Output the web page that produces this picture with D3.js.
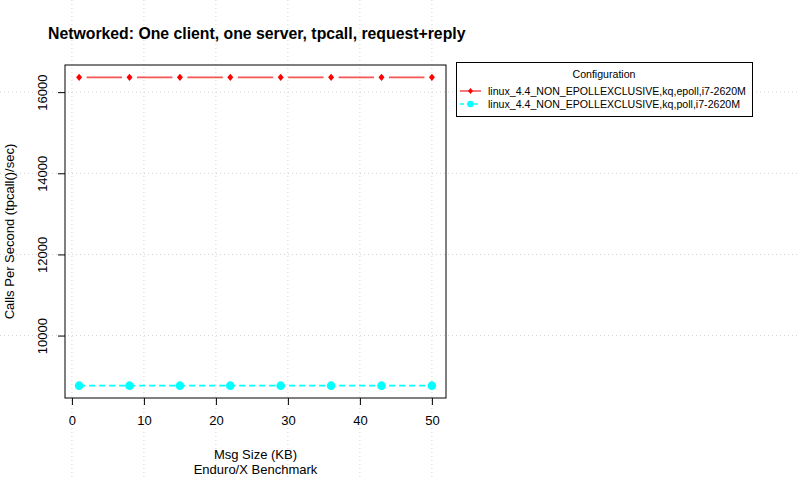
<!DOCTYPE html>
<html><head><meta charset="utf-8">
<script src="https://cdn.jsdelivr.net/npm/d3@7"></script>
<style>body{margin:0;background:#fff}svg{display:block;font-family:"Liberation Sans",Arial,sans-serif}</style>
</head><body>
<svg id="c" width="800" height="480"></svg>
<script>
const msgSize = [1, 8, 15, 22, 29, 36, 43, 50];
const epollValues = [16365, 16365, 16365, 16365, 16365, 16365, 16365, 16365];
const pollValues = [8765, 8765, 8765, 8765, 8765, 8765, 8765, 8765];
const seriesNames = ["linux_4.4_NON_EPOLLEXCLUSIVE,kq,epoll,i7-2620M", "linux_4.4_NON_EPOLLEXCLUSIVE,kq,poll,i7-2620M"];
const xTicks = [0, 10, 20, 30, 40, 50];
const yTicks = [10000, 12000, 14000, 16000];

const svg = d3.select("#c");
const L = 65, R = 446, T = 65, B = 398;
const xr = [1, 50], xp = (xr[1]-xr[0])*0.04;
const x = d3.scaleLinear().domain([xr[0]-xp, xr[1]+xp]).range([L, R]);
const allY = epollValues.concat(pollValues);
const yr = [d3.min(allY), d3.max(allY)], yp = (yr[1]-yr[0])*0.04;
const y = d3.scaleLinear().domain([yr[0]-yp, yr[1]+yp]).range([B, T]);

const diamond = (w, h) => `M0,${-h}L${w},0L0,${h}L${-w},0Z`;

// grid across whole canvas
const g = svg.append("g").attr("stroke", "#d3d3d3").attr("stroke-dasharray", "1,3").attr("stroke-width", 1);
xTicks.forEach(t => g.append("line").attr("x1", x(t)).attr("x2", x(t)).attr("y1", 0).attr("y2", 480));
yTicks.forEach(t => g.append("line").attr("y1", y(t)).attr("y2", y(t)).attr("x1", 0).attr("x2", 800));

// axes
const xa = svg.append("g").attr("transform", `translate(0,${B})`)
  .call(d3.axisBottom(x).tickValues(xTicks).tickSize(7).tickPadding(11).tickSizeOuter(0));
xa.select(".domain").remove();
xa.selectAll("text").attr("font-size", 13).attr("fill", "#000").attr("font-family", "Liberation Sans, Arial, sans-serif");
const ya = svg.append("g").attr("transform", `translate(${L},0)`)
  .call(d3.axisLeft(y).tickValues(yTicks).tickSize(7).tickFormat(d3.format("d")));
ya.select(".domain").remove();
ya.selectAll("text").attr("font-size", 13).attr("fill", "#000").attr("font-family", "Liberation Sans, Arial, sans-serif")
  .attr("text-anchor", "middle").attr("dy", 0).attr("x", 0)
  .attr("transform", d => `translate(-18,0) rotate(-90)`);
svg.append("rect").attr("x", L).attr("y", T).attr("width", R-L).attr("height", B-T)
  .attr("fill", "none").attr("stroke", "#000").attr("stroke-width", 1);

// red series: line with gaps (type b)
const gap = 7.5;
const red = svg.append("g");
for (let i = 0; i < msgSize.length-1; i++) {
  const x1 = x(msgSize[i]), y1 = y(epollValues[i]), x2 = x(msgSize[i+1]), y2 = y(epollValues[i+1]);
  const len = Math.hypot(x2-x1, y2-y1), ux = (x2-x1)/len, uy = (y2-y1)/len;
  red.append("line").attr("x1", x1+ux*gap).attr("y1", y1+uy*gap).attr("x2", x2-ux*gap).attr("y2", y2-uy*gap)
    .attr("stroke", "#f45555").attr("stroke-width", 1.6);
}
red.selectAll("path.pt").data(msgSize).join("path")
  .attr("d", diamond(3, 3.6))
  .attr("transform", (d,i) => `translate(${x(d)},${y(epollValues[i])})`)
  .attr("fill", "#ff0000");

// cyan series: dashed line with circles
svg.append("path").datum(msgSize.map((d,i)=>[d,pollValues[i]]))
  .attr("d", d3.line().x(d=>x(d[0])).y(d=>y(d[1])))
  .attr("fill", "none").attr("stroke", "#00ffff").attr("stroke-width", 1.6).attr("stroke-dasharray", "6,4");
svg.selectAll("circle.p").data(msgSize).join("circle")
  .attr("cx", d=>x(d)).attr("cy", (d,i)=>y(pollValues[i])).attr("r", 4.3).attr("fill", "#00ffff");

// titles
svg.append("text").attr("x", 48).attr("y", 39).attr("font-size", 15.8).attr("font-weight", "bold")
  .text("Networked: One client, one server, tpcall, request+reply");
svg.append("text").attr("x", (L+R)/2).attr("y", 459).attr("text-anchor", "middle").attr("font-size", 13).text("Msg Size (KB)");
svg.append("text").attr("x", (L+R)/2).attr("y", 474).attr("text-anchor", "middle").attr("font-size", 13).text("Enduro/X Benchmark");
svg.append("text").attr("transform", `translate(14,${(T+B)/2}) rotate(-90)`).attr("text-anchor", "middle")
  .attr("font-size", 13).text("Calls Per Second (tpcall()/sec)");

// legend
const lg = svg.append("g");
lg.append("rect").attr("x", 456.5).attr("y", 62.5).attr("width", 296).attr("height", 54)
  .attr("fill", "#fff").attr("stroke", "#000").attr("stroke-width", 1);
lg.append("text").attr("x", 604).attr("y", 78).attr("text-anchor", "middle").attr("font-size", 10.6).text("Configuration");
const ly = [91, 104];
lg.append("line").attr("x1", 460).attr("x2", 481).attr("y1", ly[0]).attr("y2", ly[0]).attr("stroke", "#f45555").attr("stroke-width", 1.6);
lg.append("path").attr("d", diamond(2.5, 3)).attr("transform", `translate(470.5,${ly[0]})`).attr("fill", "#f00");
lg.append("line").attr("x1", 460).attr("x2", 481).attr("y1", ly[1]).attr("y2", ly[1]).attr("stroke", "#00ffff").attr("stroke-width", 1.6).attr("stroke-dasharray", "4,3");
lg.append("circle").attr("cx", 470.5).attr("cy", ly[1]).attr("r", 3.3).attr("fill", "#00ffff");
seriesNames.forEach((n,i) => lg.append("text").attr("x", 488).attr("y", ly[i]+4).attr("font-size", 10.6).text(n));
</script>
</body></html>
